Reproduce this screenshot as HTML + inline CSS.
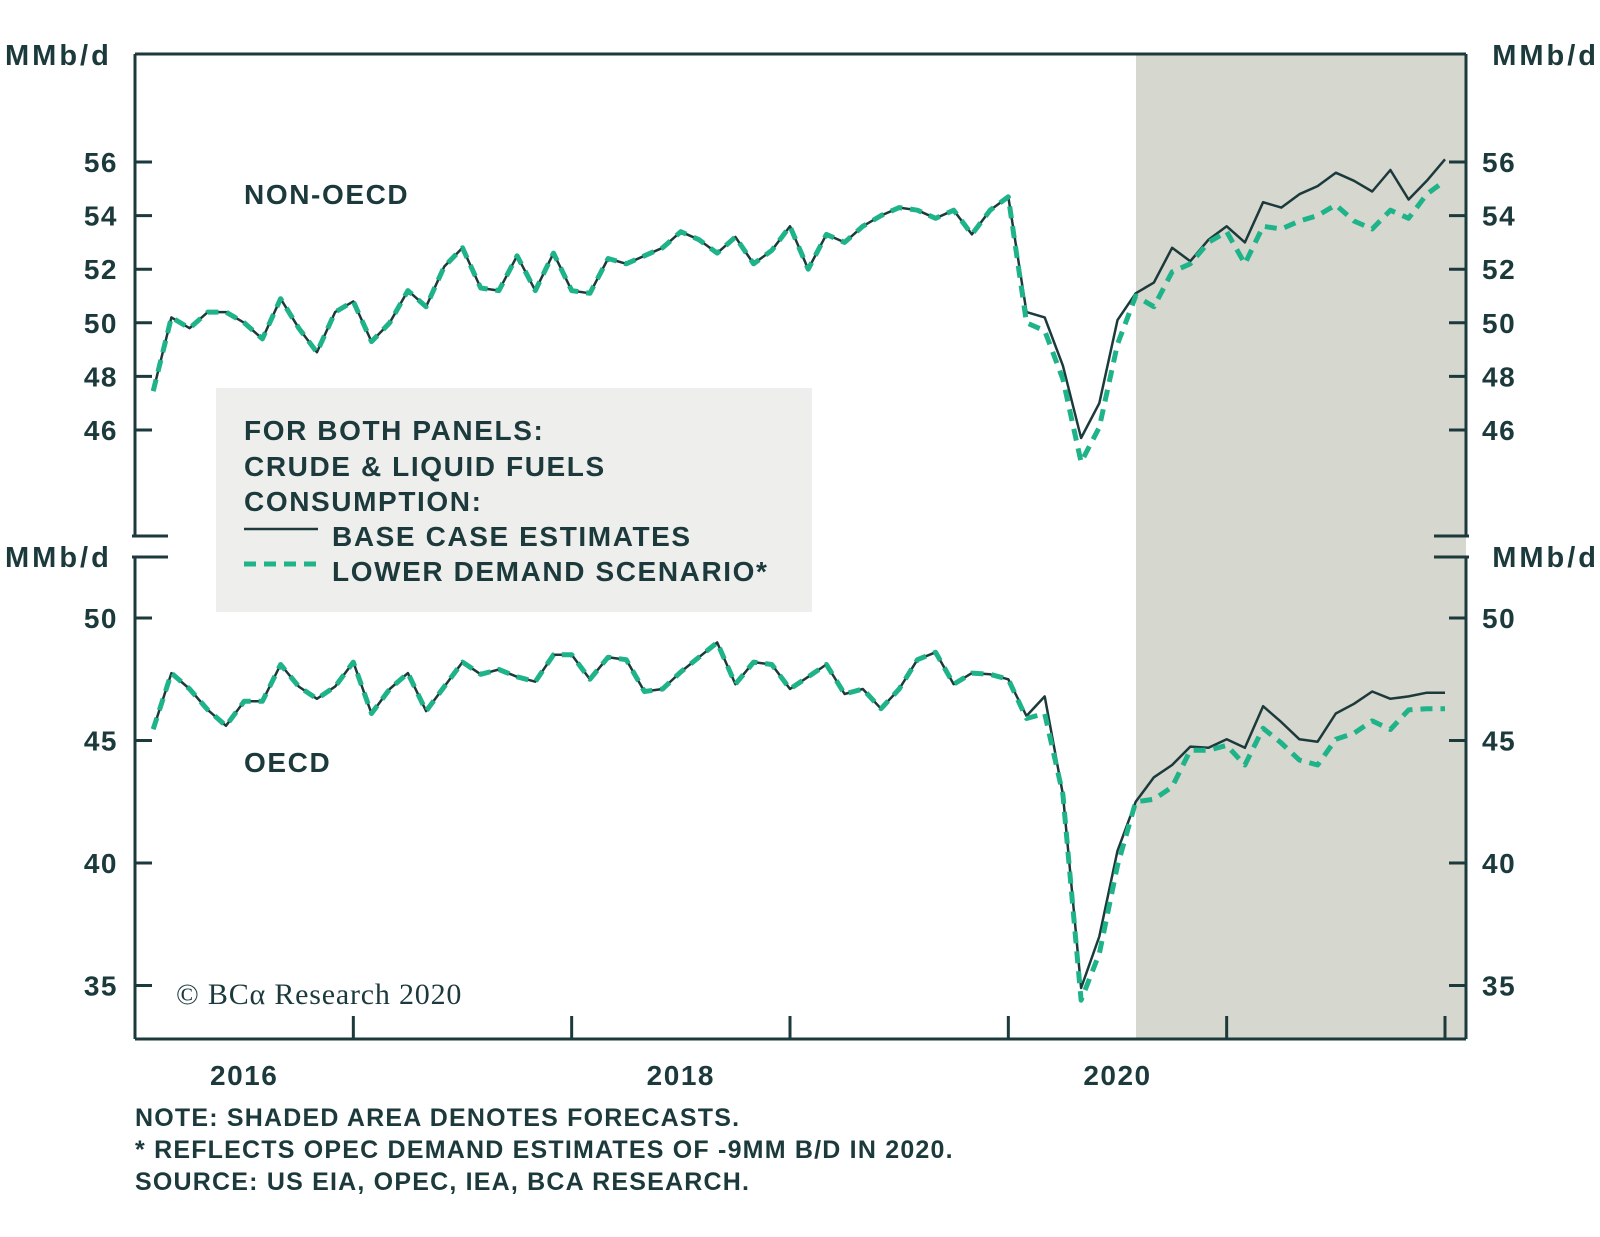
<!DOCTYPE html>
<html><head><meta charset="utf-8"><style>
html,body{margin:0;padding:0;background:#fff;}
svg{display:block;font-family:"Liberation Sans",sans-serif;}
</style></head><body>
<svg id="chart" width="1600" height="1237" viewBox="0 0 1600 1237">
<rect x="1136" y="54" width="330" height="985" fill="#d6d7ce"/>
<rect x="216" y="388" width="596" height="224" fill="#eeeeec"/>
<g id="frame" stroke="#1c3a3c" stroke-width="3" fill="none">
<line x1="135" y1="54" x2="1466" y2="54"/>
<line x1="135" y1="1039" x2="1466" y2="1039"/>
<line x1="135" y1="54" x2="135" y2="536"/>
<line x1="135" y1="557" x2="135" y2="1039"/>
<line x1="1466" y1="54" x2="1466" y2="536"/>
<line x1="1466" y1="557" x2="1466" y2="1039"/>
<line x1="132" y1="536" x2="168" y2="536"/>
<line x1="132" y1="557" x2="168" y2="557"/>
<line x1="1434" y1="536" x2="1469" y2="536"/>
<line x1="1434" y1="557" x2="1469" y2="557"/>
</g>
<g id="axes" fill="#1c3a3c" font-weight="bold" letter-spacing="1.5"></g>
<g id="series"></g>
<g fill="#1c3a3c" font-weight="bold" font-size="28" letter-spacing="1.6">
<text x="244" y="204">NON-OECD</text>
<text x="244" y="772">OECD</text>
<text x="244" y="440">FOR BOTH PANELS:</text>
<text x="244" y="476">CRUDE &amp; LIQUID FUELS</text>
<text x="244" y="511">CONSUMPTION:</text>
<text x="332" y="546">BASE CASE ESTIMATES</text>
<text x="332" y="581">LOWER DEMAND SCENARIO*</text>
</g>
<line x1="244" y1="529" x2="318" y2="529" stroke="#1c3a3c" stroke-width="2.5"/>
<line x1="244" y1="564" x2="318" y2="564" stroke="#1fb389" stroke-width="5" stroke-dasharray="12,8"/>
<text x="176" y="1004" font-family="'Liberation Serif',serif" font-size="30" letter-spacing="0.8" fill="#1c3a3c">© BCα Research 2020</text>
<g fill="#1c3a3c" font-weight="bold" font-size="25" letter-spacing="1.2">
<text x="135" y="1126">NOTE: SHADED AREA DENOTES FORECASTS.</text>
<text x="135" y="1158">* REFLECTS OPEC DEMAND ESTIMATES OF -9MM B/D IN 2020.</text>
<text x="135" y="1190">SOURCE: US EIA, OPEC, IEA, BCA RESEARCH.</text>
</g>
</svg>
<script>
const years = ["2016","2018","2020"];
const yearIdx = [0,2,4];
const topTicks = [56,54,52,50,48,46];
const botTicks = [50,45,40,35];
const nonOecdBase = [47.45,50.2,49.8,50.4,50.4,50.0,49.4,50.9,49.8,48.9,50.4,50.8,49.3,50.0,51.2,50.6,52.1,52.8,51.3,51.2,52.5,51.2,52.6,51.2,51.1,52.4,52.2,52.5,52.8,53.4,53.1,52.6,53.2,52.2,52.7,53.6,52.0,53.3,53.0,53.6,54.0,54.3,54.2,53.9,54.2,53.3,54.2,54.7,50.4,50.2,48.4,45.7,47.0,50.1,51.1,51.5,52.8,52.3,53.1,53.6,53.0,54.5,54.3,54.8,55.1,55.6,55.3,54.9,55.7,54.6,55.3,56.1];
const nonOecdLowerTail = [50.0,49.7,47.9,44.8,46.1,49.2,51.0,50.6,51.9,52.2,53.0,53.4,52.2,53.6,53.5,53.8,54.0,54.4,53.8,53.5,54.2,53.9,54.8,55.3];
const oecdBase = [45.46,47.75,47.1,46.25,45.6,46.6,46.6,48.1,47.2,46.7,47.2,48.2,46.1,47.1,47.75,46.2,47.2,48.2,47.7,47.9,47.6,47.4,48.5,48.5,47.5,48.4,48.3,47.0,47.1,47.8,48.4,49.0,47.3,48.2,48.1,47.1,47.6,48.1,46.9,47.1,46.3,47.1,48.3,48.6,47.3,47.75,47.7,47.5,46.0,46.8,42.8,34.9,37.0,40.5,42.5,43.5,44.0,44.75,44.7,45.05,44.7,46.4,45.75,45.05,44.95,46.1,46.5,47.0,46.7,46.8,46.95,46.95];
const oecdLowerTail = [45.9,46.1,42.8,34.4,36.3,39.9,42.5,42.6,43.1,44.6,44.6,44.8,44.0,45.5,44.9,44.2,44.0,45.05,45.3,45.8,45.45,46.25,46.3,46.3];
const tailStart = 48;

const NS="http://www.w3.org/2000/svg";
const X0=135, MONTH=(1445-135)/72;
function x(i){return X0+MONTH*(i+1);}
function yTop(v){return 162+(56-v)*26.8;}
function yBot(v){return 618+(50-v)*24.5;}
const axes=document.getElementById('axes'), ser=document.getElementById('series');
function mk(tag,attrs,parent){const e=document.createElementNS(NS,tag);for(const k in attrs)e.setAttribute(k,attrs[k]);parent.appendChild(e);return e;}
function yLabels(ticks,yf,prefix){
  ticks.forEach(t=>{
    const y=yf(t);
    let l=mk('line',{x1:135,y1:y,x2:152,y2:y,stroke:'#1c3a3c','stroke-width':3},axes);
    
    
    let r=mk('line',{x1:1449,y1:y,x2:1466,y2:y,stroke:'#1c3a3c','stroke-width':3},axes);
    
    
    let a=mk('text',{x:118,y:y+10,'text-anchor':'end','font-size':28},axes);a.textContent=t;
    
    
    let b=mk('text',{x:1482,y:y+10,'font-size':28},axes);b.textContent=t;
    
    
  });
}
yLabels(topTicks,yTop,'top-y');
yLabels(botTicks,yBot,'bottom-y');
[[5,65,'start'],[1599,65,'end'],[5,567,'start'],[1599,567,'end']].forEach(p=>{
  let t=mk('text',{x:p[0],y:p[1],'text-anchor':p[2],'font-size':29,'letter-spacing':3},axes);t.textContent='MMb/d';
  
  
});
for(let k=1;k<=6;k++){
  const xx=X0+MONTH*12*k;
  let l=mk('line',{x1:xx,y1:1016,x2:xx,y2:1039,stroke:'#1c3a3c','stroke-width':3},axes);
  
  
}
years.forEach((yr,j)=>{
  const cx=X0+MONTH*12*(yearIdx[j]+0.5);
  let t=mk('text',{x:cx,y:1085,'text-anchor':'middle','font-size':28},axes);t.textContent=yr;
  
  
});
function path(vals,off,yf,attrs,name){
  const d=vals.map((v,i)=>(i?'L':'M')+x(i+off).toFixed(1)+','+yf(v).toFixed(1)).join('');
  const p=mk('path',Object.assign({d:d,fill:'none'},attrs),ser);
  
  
}
const dashA={stroke:'#1fb389','stroke-width':5,'stroke-dasharray':'12,8','stroke-linejoin':'round'};
const baseA={stroke:'#1c3a3c','stroke-width':2.5,'stroke-linejoin':'round'};
const nonLower=nonOecdBase.slice(0,tailStart).concat(nonOecdLowerTail);
const oecdLower=oecdBase.slice(0,tailStart).concat(oecdLowerTail);
path(nonOecdBase,0,yTop,baseA,'non-oecd-base-line');
path(nonLower,0,yTop,dashA,'non-oecd-lower-line');
path(oecdBase,0,yBot,baseA,'oecd-base-line');
path(oecdLower,0,yBot,dashA,'oecd-lower-line');
</script>
</body></html>
